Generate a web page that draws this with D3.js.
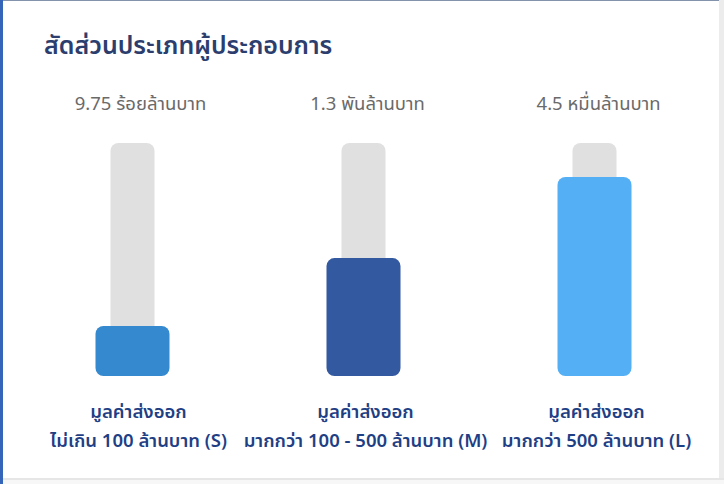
<!DOCTYPE html>
<html>
<head>
<meta charset="utf-8">
<script src="https://cdn.jsdelivr.net/npm/d3@7"></script>
<style>
  html, body { margin: 0; padding: 0; background: #ffffff; }
  svg { display: block; }
  text { font-family: "Noto Sans Thai", "Noto Sans Thai UI", "Noto Sans", sans-serif; }
</style>
</head>
<body>
<script>
const title = "สัดส่วนประเภทผู้ประกอบการ";
const categories = ["S", "M", "L"];
const valueLabels = ["9.75 ร้อยล้านบาท", "1.3 พันล้านบาท", "4.5 หมื่นล้านบาท"];
const shares = [21.5, 50.6, 85.4];
const labelLine1 = ["มูลค่าส่งออก", "มูลค่าส่งออก", "มูลค่าส่งออก"];
const labelLine2 = ["ไม่เกิน 100 ล้านบาท (S)", "มากกว่า 100 - 500 ล้านบาท (M)", "มากกว่า 500 ล้านบาท (L)"];
const barColors = ["#3589cf", "#3359a0", "#55aff5"];

const W = 724, H = 484;
const svg = d3.select("body").append("svg").attr("width", W).attr("height", H);

// card frame
svg.append("rect").attr("x", 0).attr("y", 0).attr("width", W).attr("height", H).attr("fill", "#ffffff");
svg.append("rect").attr("x", 0).attr("y", 0).attr("width", W).attr("height", 1).attr("fill", "#8393ab");
svg.append("rect").attr("x", 719).attr("y", 0).attr("width", 5).attr("height", H).attr("fill", "#ececec");
svg.append("rect").attr("x", 0).attr("y", 478).attr("width", W).attr("height", 2).attr("fill", "#e6e6e6");
svg.append("rect").attr("x", 0).attr("y", 480).attr("width", W).attr("height", 4).attr("fill", "#f7f7f7");
svg.append("rect").attr("x", 0).attr("y", 0).attr("width", 3).attr("height", H).attr("fill", "#3565b8");

svg.append("text").attr("x", 44).attr("y", 54)
  .attr("font-size", 25).attr("font-weight", 600).attr("fill", "#2b3e6e")
  .text(title);

const x = d3.scaleBand().domain(categories).range([17, 710]).paddingInner(0).paddingOuter(0);
const y = d3.scaleLinear().domain([0, 100]).range([376, 143]);

const trackW = 44, barW = 74;
const g = svg.append("g");
const cx = d => x(d) + x.bandwidth() / 2;
const labelShift = [6, 2, 2];

g.selectAll("rect.track").data(categories).join("rect")
  .attr("class", "track")
  .attr("x", d => cx(d) - trackW / 2)
  .attr("y", y(100))
  .attr("width", trackW)
  .attr("height", y(0) - y(100))
  .attr("rx", 8)
  .attr("fill", "#e0e0e0");

g.selectAll("rect.bar").data(categories).join("rect")
  .attr("class", "bar")
  .attr("x", d => cx(d) - barW / 2)
  .attr("y", (d, i) => y(shares[i]))
  .attr("width", barW)
  .attr("height", (d, i) => y(0) - y(shares[i]))
  .attr("rx", 8)
  .attr("fill", (d, i) => barColors[i]);

g.selectAll("text.val").data(categories).join("text")
  .attr("class", "val")
  .attr("x", (d, i) => cx(d) + labelShift[i] + 2)
  .attr("y", 110)
  .attr("text-anchor", "middle")
  .attr("font-size", 18.5)
  .attr("fill", "#6a6a6a")
  .text((d, i) => valueLabels[i]);

g.selectAll("text.l1").data(categories).join("text")
  .attr("class", "l1")
  .attr("x", (d, i) => cx(d) + labelShift[i])
  .attr("y", 418)
  .attr("text-anchor", "middle")
  .attr("font-size", 18.5)
  .attr("font-weight", 600)
  .attr("fill", "#1f3f85")
  .text((d, i) => labelLine1[i]);

g.selectAll("text.l2").data(categories).join("text")
  .attr("class", "l2")
  .attr("x", (d, i) => cx(d) + labelShift[i])
  .attr("y", 447)
  .attr("text-anchor", "middle")
  .attr("font-size", 18.5)
  .attr("font-weight", 600)
  .attr("fill", "#1f3f85")
  .text((d, i) => labelLine2[i]);
</script>
</body>
</html>
